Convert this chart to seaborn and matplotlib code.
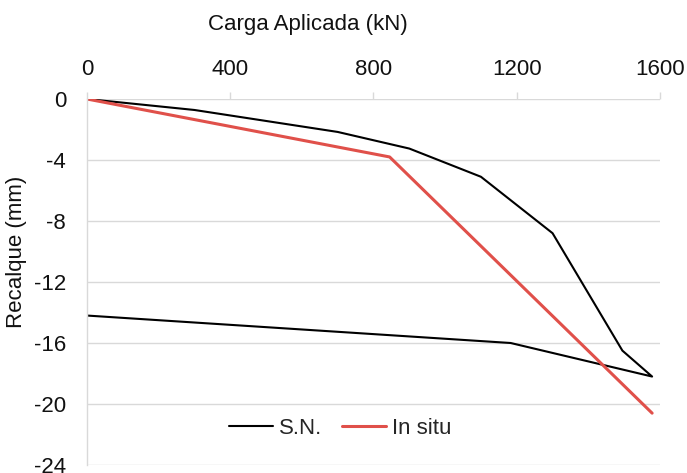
import matplotlib
matplotlib.use("Agg")
import matplotlib.pyplot as plt
import seaborn as sns
import pandas as pd

sn_carga = [0, 300, 500, 700, 900, 1100, 1300, 1495, 1578, 1183, 0]
sn_recalque = [0, -0.72, -1.44, -2.16, -3.25, -5.1, -8.8, -16.5, -18.2, -16.0, -14.2]
insitu_carga = [0, 845, 1578]
insitu_recalque = [0, -3.8, -20.6]

x_ticks = [0, 400, 800, 1200, 1600]
y_ticks = [0, -4, -8, -12, -16, -20, -24]

sns.set_theme(style="white")
plt.rcParams['font.family'] = ['Liberation Sans', 'DejaVu Sans']

df_sn = pd.DataFrame({"carga": sn_carga, "recalque": sn_recalque})
df_is = pd.DataFrame({"carga": insitu_carga, "recalque": insitu_recalque})

FS = 16
fig = plt.figure(figsize=(6.87, 4.73), dpi=100)
ax = fig.add_axes([87/687, 1-465/473, (660-87)/687, (465-99)/473])

sns.lineplot(data=df_sn, x="carga", y="recalque", sort=False, estimator=None,
             color="black", linewidth=1.5, ax=ax, label="S.N.")
sns.lineplot(data=df_is, x="carga", y="recalque", sort=False, estimator=None,
             color="#e0504a", linewidth=2.2, ax=ax, label="In situ")

ax.set_xlim(0, 1600)
ax.set_ylim(-24, 0)
ax.set_xticks(x_ticks)
ax.set_yticks(y_ticks)
ax.set_xticklabels([str(v) for v in x_ticks])
ax.set_yticklabels([str(v) for v in y_ticks])
ax.xaxis.tick_top()
ax.tick_params(axis='x', which='both', top=True, length=5, color='#d9d9d9', width=1,
               labelsize=FS, pad=9, labelcolor='#111111')
ax.tick_params(axis='y', length=0, labelsize=FS, pad=15, labelcolor='#111111')
ax.grid(axis='y', color='#d9d9d9', linewidth=1)
ax.grid(axis='x', visible=False)
for s in ['right', 'bottom', 'top']:
    ax.spines[s].set_visible(False)
ax.spines['left'].set_color('#d9d9d9')
ax.spines['left'].set_linewidth(1)
ax.set_axisbelow(True)
ax.set_xlabel("")
ax.set_ylabel("")

fig.text(308/687, 1-30/473, "Carga Aplicada (kN)", ha='center', va='baseline', fontsize=FS, color='#111111')
fig.text(17/687, 1-252/473, "Recalque (mm)", ha='center', va='center', rotation=90, fontsize=FS, color='#111111')

leg = ax.legend(loc='center', bbox_to_anchor=((340-87)/573, (465-428)/366), ncol=2, frameon=False,
                fontsize=FS, handlelength=2.0, handletextpad=0.25, columnspacing=0.9)

fig.savefig("out.png", dpi=100)
